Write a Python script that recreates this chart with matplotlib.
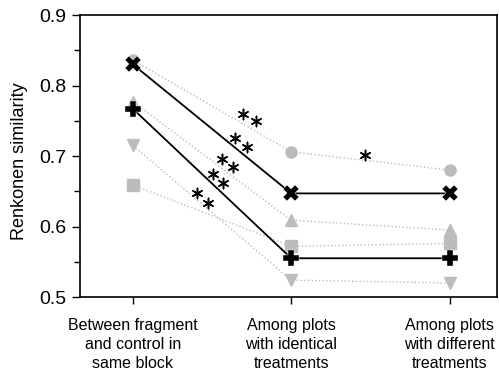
import numpy as np
from matplotlib import pyplot as plt
from matplotlib.ticker import MultipleLocator, FormatStrFormatter

plt.rcParams['font.family'] = ['Liberation Sans', 'DejaVu Sans']

categories = ["Between fragment\nand control in\nsame block",
              "Among plots\nwith identical\ntreatments",
              "Among plots\nwith different\ntreatments"]

# mean similarity, black series
mean_x = [0.830, 0.647, 0.647]
mean_plus = [0.767, 0.555, 0.555]

# grey series (individual groups)
grey_circle = [0.836, 0.706, 0.680]
grey_tri_up = [0.777, 0.609, 0.595]
grey_tri_down = [0.715, 0.524, 0.520]
grey_square = [0.659, 0.572, 0.576]

# significance asterisks
star_x = [0.694, 0.776, 0.644, 0.719, 0.562, 0.631, 0.505, 0.568, 0.404, 0.473, 1.464]
star_y = [0.760, 0.750, 0.726, 0.713, 0.696, 0.684, 0.674, 0.662, 0.648, 0.633, 0.701]

x = np.arange(len(categories))

fig = plt.figure(figsize=(4.99, 3.76), dpi=100)
ax = fig.add_axes([0.160, 0.210, 0.836, 0.750])

grey = '#bcbcbc'
for vals, m in [(grey_circle, 'o'), (grey_tri_up, '^'),
                (grey_tri_down, 'v'), (grey_square, 's')]:
    ax.plot(x, vals, linestyle=':', color=grey, lw=1.0, marker=m,
            markersize=8, markerfacecolor=grey, markeredgecolor=grey, zorder=2)

ax.plot(x, mean_x, color='black', lw=1.3, marker='X', markersize=12,
        markeredgecolor='white', markeredgewidth=0.3, zorder=4)
ax.plot(x, mean_plus, color='black', lw=1.3, marker='P', markersize=11,
        markeredgecolor='white', markeredgewidth=0.3, zorder=4)

ax.scatter(star_x, star_y, marker=(6, 2, 0), s=55, color='black', lw=1.1, zorder=5)

ax.set_xlim(-0.335, 2.3)
ax.set_ylim(0.5, 0.9)
ax.set_xticks(x)
ax.set_xticklabels(categories, fontsize=11.5, linespacing=1.35)
ax.yaxis.set_major_locator(MultipleLocator(0.1))
ax.yaxis.set_minor_locator(MultipleLocator(0.05))
ax.yaxis.set_major_formatter(FormatStrFormatter('%.1f'))
ax.tick_params(axis='y', labelsize=14, direction='out', length=6, width=1)
ax.tick_params(axis='y', which='minor', direction='out', length=4, width=1)
ax.tick_params(axis='x', direction='out', length=5, width=1, pad=10)
ax.set_ylabel("Renkonen similarity", fontsize=13)
ax.yaxis.set_label_coords(-0.125, 0.48)

for s in ax.spines.values():
    s.set_linewidth(1.2)

fig.savefig("out.png", dpi=100)
